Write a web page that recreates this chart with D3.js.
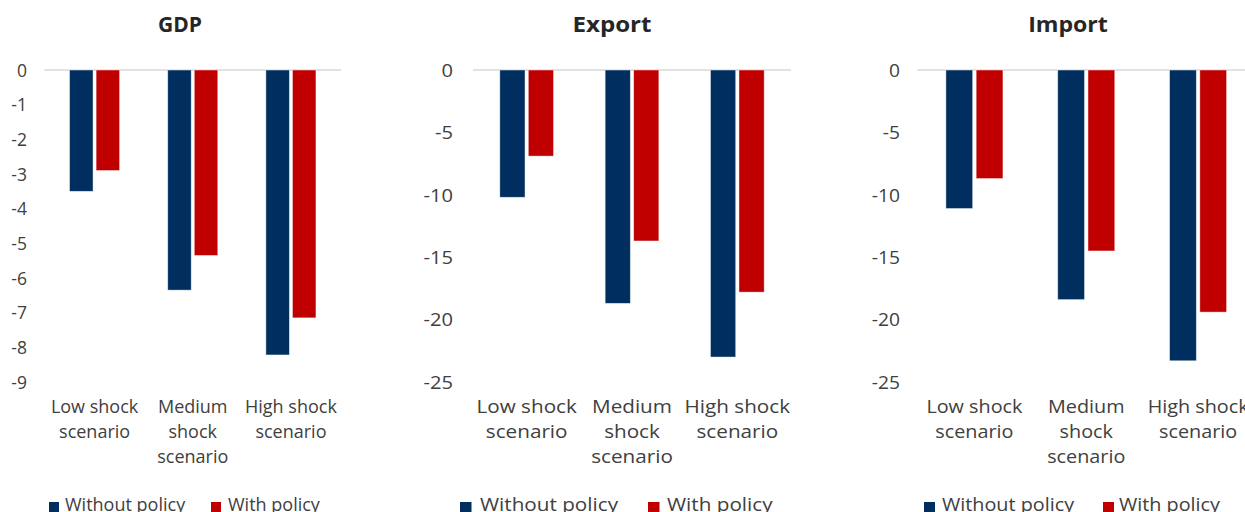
<!DOCTYPE html>
<html>
<head>
<meta charset="utf-8">
<script src="https://cdn.jsdelivr.net/npm/d3@7"></script>
<style>
  html, body { margin: 0; padding: 0; background: #fff; }
  svg { display: block; }
  text { font-family: "Open Sans", "Noto Sans", sans-serif; }
</style>
</head>
<body>
<svg id="chart" width="1245" height="512"></svg>
<script>
// Scenario categories and the label lines under each group
const categories = ["Low shock scenario", "Medium shock scenario", "High shock scenario"];
const categoryLines = [["Low shock", "scenario"], ["Medium", "shock", "scenario"], ["High shock", "scenario"]];
const series = ["Without policy", "With policy"];

// Deviation from baseline, per cent
const gdpWithout = [-3.5, -6.35, -8.22];
const gdpWith = [-2.9, -5.35, -7.15];
const exportWithout = [-10.2, -18.7, -23.0];
const exportWith = [-6.9, -13.7, -17.8];
const importWithout = [-11.1, -18.4, -23.3];
const importWith = [-8.7, -14.5, -19.4];

// Axis ticks
const gdpTicks = [0, -1, -2, -3, -4, -5, -6, -7, -8, -9];
const tradeTicks = [0, -5, -10, -15, -20, -25];

const colors = { "Without policy": "#002f5f", "With policy": "#c00000" };
const textColor = "#404040";

const panels = [
  { title: "GDP", without: gdpWithout, with: gdpWith, ticks: gdpTicks,
    plot: [45.5, 340], axisX: 27, titleX: 180, sx: 1.0,
    legend: [49, 65, 211, 228] },
  { title: "Export", without: exportWithout, with: exportWith, ticks: tradeTicks,
    plot: [474, 790], axisX: 453, titleX: 612, sx: 1.15,
    legend: [460, 480, 648, 667] },
  { title: "Import", without: importWithout, with: importWith, ticks: tradeTicks,
    plot: [918.5, 1254], axisX: 900, titleX: 1068, sx: 1.1,
    legend: [924, 942, 1103, 1119] }
];

const svg = d3.select("#chart");
const yTop = 70, yBottom = 382;
const fontSize = 18;

panels.forEach(p => {
  const g = svg.append("g");

  const y = d3.scaleLinear()
    .domain([0, d3.min(p.ticks)])
    .range([yTop, yBottom]);

  const x = d3.scaleBand()
    .domain(categories)
    .range(p.plot)
    .paddingInner(0)
    .paddingOuter(0);

  const bw = x.bandwidth();
  const pairWidth = bw * 0.51;
  const xs = d3.scaleBand()
    .domain(series)
    .range([(bw - pairWidth) / 2, (bw + pairWidth) / 2])
    .paddingInner(0.115);

  // Title
  g.append("text")
    .attr("transform", `translate(${p.titleX},${25}) scale(${p.sx},1)`)
    .attr("text-anchor", "middle")
    .attr("dy", "0.35em")
    .attr("font-size", 21)
    .attr("font-weight", "bold")
    .attr("fill", "#262626")
    .text(p.title);

  // Zero line
  g.append("line")
    .attr("x1", p.plot[0] - 1).attr("x2", p.plot[1] + 1)
    .attr("y1", y(0)).attr("y2", y(0))
    .attr("stroke", "#d9d9d9")
    .attr("stroke-width", 1.5);

  // Value axis (labels only)
  const axis = d3.axisLeft(y)
    .tickValues(p.ticks)
    .tickSize(0)
    .tickPadding(0)
    .tickFormat(d3.format("d"));
  const ag = g.append("g")
    .attr("transform", `translate(${p.axisX},0)`)
    .call(axis);
  ag.select(".domain").remove();
  ag.selectAll(".tick text")
    .attr("x", 0)
    .attr("dy", "0.36em")
    .attr("transform", `scale(${p.sx},1)`)
    .attr("font-size", 17.5)
    .attr("font-family", "\"Open Sans\", sans-serif")
    .attr("fill", textColor)
    .text(d => d === 0 ? "0" : "-" + Math.abs(d));

  // Bars
  const rows = categories.map((c, i) => ({
    category: c,
    values: [
      { key: "Without policy", value: p.without[i] },
      { key: "With policy", value: p.with[i] }
    ]
  }));

  const groups = g.selectAll("g.cat")
    .data(rows)
    .join("g")
    .attr("class", "cat")
    .attr("transform", d => `translate(${x(d.category)},0)`);

  groups.selectAll("rect")
    .data(d => d.values)
    .join("rect")
    .attr("x", d => xs(d.key))
    .attr("width", xs.bandwidth())
    .attr("y", d => y(0))
    .attr("height", d => y(d.value) - y(0))
    .attr("fill", d => colors[d.key])
    .attr("stroke", "#ffffff")
    .attr("stroke-opacity", 0.55)
    .attr("stroke-width", 0.8);

  // Category labels
  rows.forEach((r, i) => {
    const cx = x(r.category) + bw / 2;
    categoryLines[i].forEach((line, k) => {
      g.append("text")
        .attr("transform", `translate(${cx},${407 + k * 25}) scale(${p.sx},1)`)
        .attr("text-anchor", "middle")
        .attr("dy", "0.35em")
        .attr("font-size", fontSize)
        .attr("fill", textColor)
        .text(line);
    });
  });

  // Legend (runs to the bottom edge of the figure)
  series.forEach((s, k) => {
    const mx = p.legend[k * 2], tx = p.legend[k * 2 + 1];
    g.append("rect")
      .attr("x", mx).attr("y", 502)
      .attr("width", 10 * p.sx).attr("height", 10)
      .attr("fill", colors[s]);
    g.append("text")
      .attr("transform", `translate(${tx},${511}) scale(${p.sx},1)`)
      .attr("font-size", fontSize)
      .attr("fill", textColor)
      .text(s);
  });
});
</script>
</body>
</html>
